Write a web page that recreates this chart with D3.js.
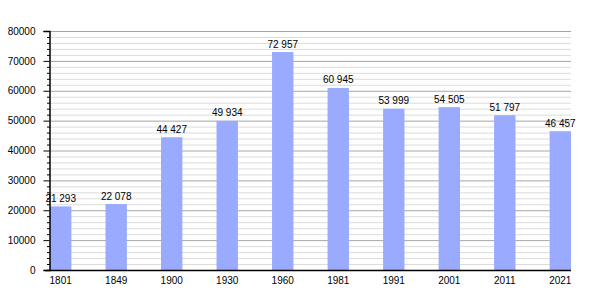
<!DOCTYPE html>
<html>
<head>
<meta charset="utf-8">
<script src="https://cdn.jsdelivr.net/npm/d3@7"></script>
<style>
  body { margin: 0; background: #fff; }
  text { font-family: "Liberation Sans", Arial, sans-serif; }
</style>
</head>
<body>
<div id="chart"></div>
<script>
// population by census year
const years = ['1801', '1849', '1900', '1930', '1960', '1981', '1991', '2001', '2011', '2021'];
const population = [21293, 22078, 44427, 49934, 72957, 60945, 53999, 54505, 51797, 46457];
const yTicks = [0, 10000, 20000, 30000, 40000, 50000, 60000, 70000, 80000];

const width = 600, height = 300;
const margin = { top: 31, right: 29, bottom: 30, left: 50 };

const svg = d3.select('#chart').append('svg')
  .attr('width', width)
  .attr('height', height);

const x = d3.scaleBand()
  .domain(years)
  .range([margin.left, width - margin.right])
  .paddingInner(0.615)
  .paddingOuter(0);

const y = d3.scaleLinear()
  .domain([0, 80000])
  .range([height - margin.bottom, margin.top]);

// minor grid every 2000, major every 10000
const minor = d3.range(2000, 80001, 2000).filter(v => v % 10000 !== 0);

svg.append('g').selectAll('line')
  .data(minor)
  .enter().append('line')
  .attr('x1', margin.left).attr('x2', width - margin.right)
  .attr('y1', d => y(d) + 0.5).attr('y2', d => y(d) + 0.5)
  .attr('stroke', '#dcdcdc');

svg.append('g').selectAll('line')
  .data(yTicks.slice(1))
  .enter().append('line')
  .attr('x1', margin.left).attr('x2', width - margin.right)
  .attr('y1', d => y(d) + 0.5).attr('y2', d => y(d) + 0.5)
  .attr('stroke', '#a6a6a6');

// bars
svg.append('g').selectAll('rect')
  .data(population)
  .enter().append('rect')
  .attr('x', (d, i) => x(years[i]))
  .attr('y', d => y(d))
  .attr('width', x.bandwidth())
  .attr('height', d => y(0) - y(d))
  .attr('fill', '#99aaff');

// value labels
const fmt = v => d3.format(',')(v).replace(/,/g, ' ');
svg.append('g').selectAll('text')
  .data(population)
  .enter().append('text')
  .attr('x', (d, i) => x(years[i]) + x.bandwidth() / 2)
  .attr('y', d => y(d) - 4.5)
  .attr('text-anchor', 'middle')
  .attr('font-size', '10px')
  .attr('fill', '#000')
  .text(fmt);

// y axis with minor ticks
svg.append('g').selectAll('line')
  .data(minor)
  .enter().append('line')
  .attr('x1', margin.left - 3).attr('x2', margin.left)
  .attr('y1', d => y(d) + 0.5).attr('y2', d => y(d) + 0.5)
  .attr('stroke', '#000');

const yAxis = svg.append('g')
  .attr('transform', `translate(${margin.left - 0.5},0)`)
  .call(d3.axisLeft(y).tickValues(yTicks).tickFormat(d3.format('d')).tickSize(6).tickPadding(8));
yAxis.select('.domain').attr('stroke', '#000').attr('stroke-width', 1.5);
yAxis.selectAll('text').attr('font-size', '10px').attr('font-family', '"Liberation Sans", Arial, sans-serif').attr('fill', '#000');

// x axis
const xAxis = svg.append('g')
  .attr('transform', `translate(0,${height - margin.bottom + 0.5})`)
  .call(d3.axisBottom(x).tickSize(0).tickPadding(6));
xAxis.select('.domain').attr('stroke', '#000').attr('stroke-width', 1.5)
  .attr('d', `M${margin.left - 5},0H${width - margin.right}`);
xAxis.selectAll('text').attr('font-size', '10px').attr('font-family', '"Liberation Sans", Arial, sans-serif').attr('fill', '#000');
</script>
</body>
</html>
